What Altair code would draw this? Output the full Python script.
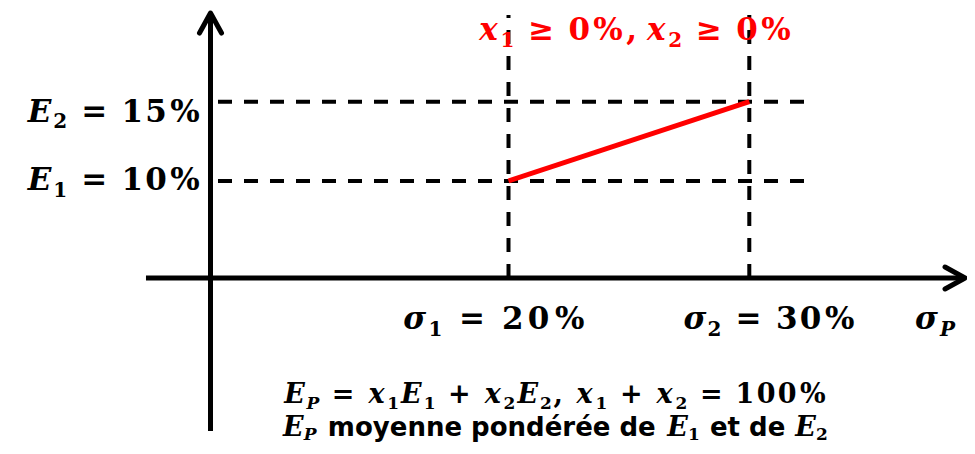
import altair as alt
import pandas as pd

# ---------------- data ----------------
asset_ids = ["1", "2"]
sigma_vals = [20, 30]          # sigma_1, sigma_2 (%)
E_vals = [10, 15]              # E_1, E_2 (%)
weight_floor = [0, 0]          # x_1 >= 0 %, x_2 >= 0 %
weight_sum = 100               # x_1 + x_2 = 100 %
portfolio_id = "P"
caption_words = ["moyenne pondérée de", "et de"]

# diagram frame (data units)
x_axis_span = [-4.33, 38.96]
y_axis_span = [-15.77, 20.59]
dash_top = 20.47
dash_right = 32.31

# ---------------- scales (schematic, piecewise) ----------------
xs = alt.Scale(domain=[0] + sigma_vals, range=[202.5, 500.5, 741.3], nice=False, zero=False)
ys = alt.Scale(domain=[0] + E_vals, range=[270, 173, 93.7], nice=False, zero=False)


def X(f):
    return alt.X(f"{f}:Q", scale=xs, axis=None)


def Y(f):
    return alt.Y(f"{f}:Q", scale=ys, axis=None)


def df(**cols):
    return pd.DataFrame({k: (v if isinstance(v, list) else [v]) for k, v in cols.items()})


layers = []

# axes
layers.append(alt.Chart(df(s=x_axis_span[0], s2=x_axis_span[1], e=0)).mark_rule(
    color="black", strokeWidth=5).encode(x=X("s"), x2="s2:Q", y=Y("e")))
layers.append(alt.Chart(df(s=0, e=y_axis_span[0], e2=y_axis_span[1])).mark_rule(
    color="black", strokeWidth=5).encode(x=X("s"), y=Y("e"), y2="e2:Q"))

UP = "M -1 1.82 L 0 0 L 1 1.82"
RIGHT = "M -1.82 -1 L 0 0 L -1.82 1"
arrow_style = dict(filled=False, color="black", strokeWidth=5, opacity=1,
                   strokeCap="round", strokeJoin="round", size=484)
layers.append(alt.Chart(df(s=0, e=y_axis_span[1])).mark_point(shape=UP, **arrow_style)
              .encode(x=X("s"), y=Y("e")))
layers.append(alt.Chart(df(s=x_axis_span[1], e=0)).mark_point(shape=RIGHT, **arrow_style)
              .encode(x=X("s"), y=Y("e")))

# dashed guides
layers.append(alt.Chart(pd.DataFrame({"s": [0, 0], "s2": [dash_right] * 2, "e": E_vals})).mark_rule(
    color="black", strokeWidth=4, strokeDash=[14, 12], strokeDashOffset=18.5)
    .encode(x=X("s"), x2="s2:Q", y=Y("e")))
layers.append(alt.Chart(pd.DataFrame({"s": sigma_vals, "e": [0, 0], "e2": [dash_top] * 2})).mark_rule(
    color="black", strokeWidth=4, strokeDash=[14, 12])
    .encode(x=X("s"), y=Y("e"), y2="e2:Q"))

# red segment
layers.append(alt.Chart(pd.DataFrame({"s": sigma_vals, "e": E_vals})).mark_line(
    color="#FF0000", strokeWidth=5).encode(x=X("s"), y=Y("e")))

# ---------------- text layout ----------------
SERIF = "DejaVu Serif"
SANS = "DejaVu Sans"
UPW = {**{d: 0.696 for d in "0123456789"}, " ": 0.348, "=": 0.838, "+": 0.838,
       "≥": 0.838, "%": 1.002, ",": 0.380}
ITW = {"E": 0.76, "x": 0.67, "σ": 0.69, "P": 0.73}
SANSW = {"a": 0.675, "b": 0.715, "c": 0.595, "d": 0.715, "e": 0.678, "é": 0.678,
         "m": 1.042, "n": 0.712, "o": 0.687, "p": 0.715, "r": 0.493, "t": 0.478,
         "y": 0.652, " ": 0.348}


def tok_metrics(text, kind, size, sub, wsize, shift):
    if kind == "v":
        return ITW.get(text, 0.7) * size, SERIF, "italic", size, 0
    if kind == "n":
        return sum(UPW.get(c, 0.7) for c in text) * size, SERIF, "normal", size, 0
    if kind == "vs":
        return ITW.get(text, 0.7) * sub, SERIF, "italic", sub, shift * size
    if kind == "ns":
        return sum(UPW.get(c, 0.7) for c in text) * sub, SERIF, "normal", sub, shift * size
    if kind == "w":
        return sum(SANSW.get(c, 0.65) for c in text) * wsize, SANS, "normal", wsize, 0
    if kind == "sp":
        return 0.348 * size, None, None, None, 0
    if kind == "thin":
        return 0.2 * size, None, None, None, 0
    raise ValueError(kind)


def label(tokens, anchor, left, width, base, size, sub, color="black", wsize=None, shift=0.22):
    wsize = wsize or size
    mets = [tok_metrics(t, k, size, sub, wsize, shift) for t, k in tokens]
    total = sum(m[0] for m in mets)
    k = width / total
    cum = 0.0
    for (t, kind), (w, font, style, fs, dyadd) in zip(tokens, mets):
        if font is not None:
            cx = left + k * (cum + w / 2)
            layers.append(
                alt.Chart(df(s=anchor[0], e=anchor[1], t=t)).mark_text(
                    align="center", baseline="alphabetic", dx=cx, dy=base + dyadd,
                    font=font, fontStyle=style, fontWeight="bold", fontSize=fs, color=color)
                .encode(x=X("s"), y=Y("e"), text="t:N"))
        cum += w


def num(v):
    return [(c, "n") for c in f"{v}"]


SP = (" ", "sp")
PCT = ("%", "n")
M, S = 31, 20   # main / subscript font sizes

# E labels on the vertical axis
label([("E", "v"), (asset_ids[1], "ns"), SP, ("=", "n"), SP] + num(E_vals[1]) + [PCT],
      (0, E_vals[1]), -183.8, 175.3, 19.8, M, S)
label([("E", "v"), (asset_ids[0], "ns"), SP, ("=", "n"), SP] + num(E_vals[0]) + [PCT],
      (0, E_vals[0]), -183.8, 175.3, 9, M, S)

# red constraint label
label([("x", "v"), (asset_ids[0], "ns"), SP, ("≥", "n"), SP] + num(weight_floor[0]) + [PCT, (",", "n"),
      ("", "thin"), ("x", "v"), (asset_ids[1], "ns"), SP, ("≥", "n"), SP] + num(weight_floor[1]) + [PCT],
      (sigma_vals[0], dash_top), -31.5, 316, 25, M, S, color="#FF0000")

# sigma labels
label([("σ", "v"), (asset_ids[0], "ns"), SP, ("=", "n"), SP] + num(sigma_vals[0]) + [PCT],
      (sigma_vals[0], 0), -106.5, 186, 51, M, S)
label([("σ", "v"), (asset_ids[1], "ns"), SP, ("=", "n"), SP] + num(sigma_vals[1]) + [PCT],
      (sigma_vals[1], 0), -66.3, 174, 51, M, S)
label([("σ", "v"), (portfolio_id, "vs")],
      (x_axis_span[1], 0), -51, 42, 51, M, S)

# bottom formula lines
line1 = ([("E", "v"), (portfolio_id, "vs"), SP, ("=", "n"), SP,
          ("x", "v"), (asset_ids[0], "ns"), ("E", "v"), (asset_ids[0], "ns"), SP, ("+", "n"), SP,
          ("x", "v"), (asset_ids[1], "ns"), ("E", "v"), (asset_ids[1], "ns"), (",", "n"), SP,
          ("x", "v"), (asset_ids[0], "ns"), SP, ("+", "n"), SP, ("x", "v"), (asset_ids[1], "ns"), SP,
          ("=", "n"), SP] + num(weight_sum) + [PCT])
label(line1, (0, y_axis_span[0]), 72.5, 545, -28, 27, 17)

line2 = [("E", "v"), (portfolio_id, "vs"), SP, (caption_words[0], "w"), SP,
         ("E", "v"), (asset_ids[0], "ns"), SP, (caption_words[1], "w"), SP,
         ("E", "v"), (asset_ids[1], "ns")]
label(line2, (0, y_axis_span[0]), 72.5, 545, 5, 27, 17, wsize=26, shift=0.16)

chart = alt.layer(*layers).properties(
    width=959, height=438, padding=0,
    autosize=alt.AutoSizeParams(type="none"),
    background="white",
).configure_view(stroke=None)

chart.save("out.html", embed_options={"renderer": "svg", "actions": False})
